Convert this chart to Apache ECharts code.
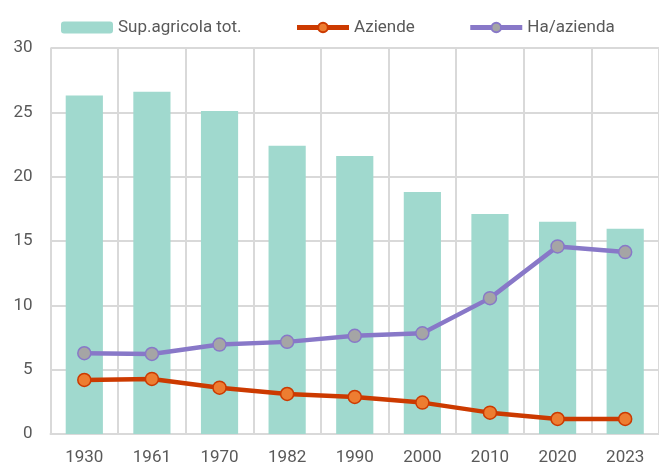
<!DOCTYPE html>
<html>
<head>
<meta charset="utf-8">
<script src="https://cdn.jsdelivr.net/npm/echarts@6/dist/echarts.min.js"></script>
<style>
html, body { margin: 0; padding: 0; background: #fff; }
#chart { width: 659px; height: 468px; }
</style>
</head>
<body>
<div id="chart"></div>
<script>
var years = ['1930', '1961', '1970', '1982', '1990', '2000', '2010', '2020', '2023'];
var supAgricola = [26.3, 26.6, 25.1, 22.4, 21.6, 18.8, 17.1, 16.5, 15.95];
var aziende = [4.2, 4.28, 3.6, 3.11, 2.88, 2.44, 1.66, 1.17, 1.17];
var haAzienda = [6.28, 6.22, 6.95, 7.16, 7.63, 7.83, 10.56, 14.58, 14.14];

var font = "Roboto, sans-serif";
var textColor = '#595959';

var myChart = echarts.init(document.getElementById('chart'));
var option = {
	animation: false,
	textStyle: { fontFamily: font },
	legend: {
		top: 14,
		left: 56,
		itemWidth: 52,
		itemHeight: 12,
		itemGap: 53,
		textStyle: { fontFamily: font, fontSize: 17, color: textColor },
		data: [
			{ name: 'Sup.agricola tot.' },
			{ name: 'Aziende', lineStyle: { width: 5 } },
			{ name: 'Ha/azienda', lineStyle: { width: 5 } }
		]
	},
	grid: {
		left: 50.5,
		right: -3,
		top: 48,
		bottom: 34,
		containLabel: false
	},
	xAxis: {
		type: 'category',
		data: years,
		axisLine: { lineStyle: { color: '#D9D9D9', width: 2 } },
		axisTick: { show: false },
		axisLabel: { fontFamily: font, fontSize: 17, color: textColor, margin: 15 },
		splitLine: { show: true, interval: 0, lineStyle: { color: '#D9D9D9', width: 2 } }
	},
	yAxis: {
		type: 'value',
		min: 0,
		max: 30,
		interval: 5,
		axisLine: { show: false },
		axisTick: { show: false },
		axisLabel: { fontFamily: font, fontSize: 17, color: textColor, margin: 18 },
		splitLine: { lineStyle: { color: '#D9D9D9', width: 2 } }
	},
	series: [
		{
			name: 'Sup.agricola tot.',
			type: 'bar',
			data: supAgricola,
			barCategoryGap: '45%',
			itemStyle: { color: '#A0D9CE' }
		},
		{
			name: 'Aziende',
			type: 'line',
			data: aziende,
			symbol: 'circle',
			symbolSize: 13,
			lineStyle: { color: '#CC3A00', width: 4.5 },
			itemStyle: { color: '#ED7D31', borderColor: '#CC3A00', borderWidth: 1.5 }
		},
		{
			name: 'Ha/azienda',
			type: 'line',
			data: haAzienda,
			symbol: 'circle',
			symbolSize: 13,
			lineStyle: { color: '#8878C8', width: 4.5 },
			itemStyle: { color: '#A5A5A5', borderColor: '#8878C8', borderWidth: 1.5 }
		}
	]
};
myChart.setOption(option);
</script>
</body>
</html>
